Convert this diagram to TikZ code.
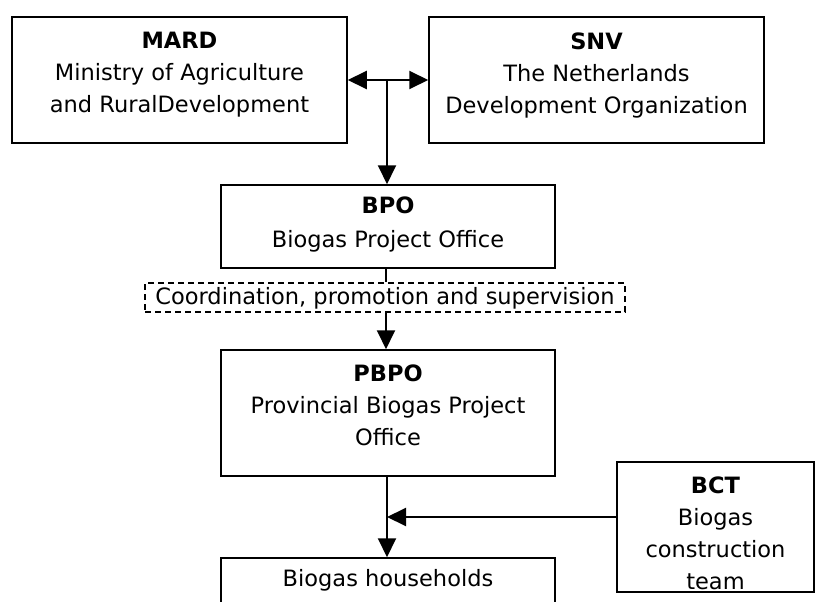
\documentclass[tikz,border=0pt]{standalone}
\usepackage{fontspec}
\setmainfont{DejaVu Sans}
\usetikzlibrary{arrows.meta}
\begin{document}
\begin{tikzpicture}[x=1pt,y=-1pt,
  box/.style={draw,line width=1.5pt,rectangle,inner sep=0pt},
  dbox/.style={draw,line width=1.2pt,dash pattern=on 6pt off 4pt,rectangle,inner sep=0pt},
  txt/.style={align=center,inner sep=0pt,anchor=north,font=\fontsize{22.5}{32}\selectfont},
  ltxt/.style={inner sep=0pt,anchor=base,font=\fontsize{22.5}{32}\selectfont},
  conn/.style={line width=2pt},
  arr/.style={line width=2pt,-{Triangle[length=19pt,width=18pt]}},
  darr/.style={line width=2pt,{Triangle[length=19pt,width=18pt]}-{Triangle[length=19pt,width=18pt]}}
]
\clip (0,0) rectangle (815,602);
% boxes
\node[box,minimum width=335pt,minimum height=126pt] (mard) at (179.5,80) {};
\node[box,minimum width=335pt,minimum height=126pt] (snv) at (596.5,80) {};
\node[box,minimum width=334pt,minimum height=83pt] (bpo) at (388,226.5) {};
\node[dbox,minimum width=480pt,minimum height=29pt] (coord) at (385,297.5) {};
\node[box,minimum width=334pt,minimum height=126pt] (pbpo) at (388,413) {};
\node[box,minimum width=334pt,minimum height=83pt] (hh) at (388,599.5) {};
\node[box,minimum width=197pt,minimum height=130pt] (bct) at (715.5,527) {};
% texts
\node[txt] (mardt) at ([yshift=-16pt]mard.north) {\textbf{MARD}\\Ministry of Agriculture\\and RuralDevelopment};
\node[txt] (snvt) at ([yshift=-16pt]snv.north) {\textbf{SNV}\\The Netherlands\\Development Organization};
\node[txt] (bpot) at ([yshift=-12pt]bpo.north) {\textbf{BPO}\\[2pt]Biogas Project Office};
\node[ltxt] (coordt) at ([yshift=-7pt]coord.center) {Coordination, promotion and supervision};
\node[txt] (pbpot) at ([yshift=-15pt]pbpo.north) {\textbf{PBPO}\\Provincial Biogas Project\\Office};
\node[txt] (hht) at ([yshift=-12pt]hh.north) {Biogas households};
\node[txt] (bctt) at ([yshift=-15pt]bct.north) {\textbf{BCT}\\Biogas\\construction\\team};
% connectors
\draw[darr] (mard.east) -- (snv.west);
\coordinate (j1) at (387,80);
\draw[arr] (j1) -- (j1 |- bpo.north);
\draw[conn] (bpo.south -| 386,0) -- (coord.north -| 386,0);
\draw[arr] (coord.south -| 386,0) -- (pbpo.north -| 386,0);
\draw[arr] (pbpo.south -| 387,0) -- (hh.north -| 387,0);
\coordinate (j2) at (387,517);
\draw[arr] (bct.west |- j2) -- (j2);
\end{tikzpicture}
\end{document}
